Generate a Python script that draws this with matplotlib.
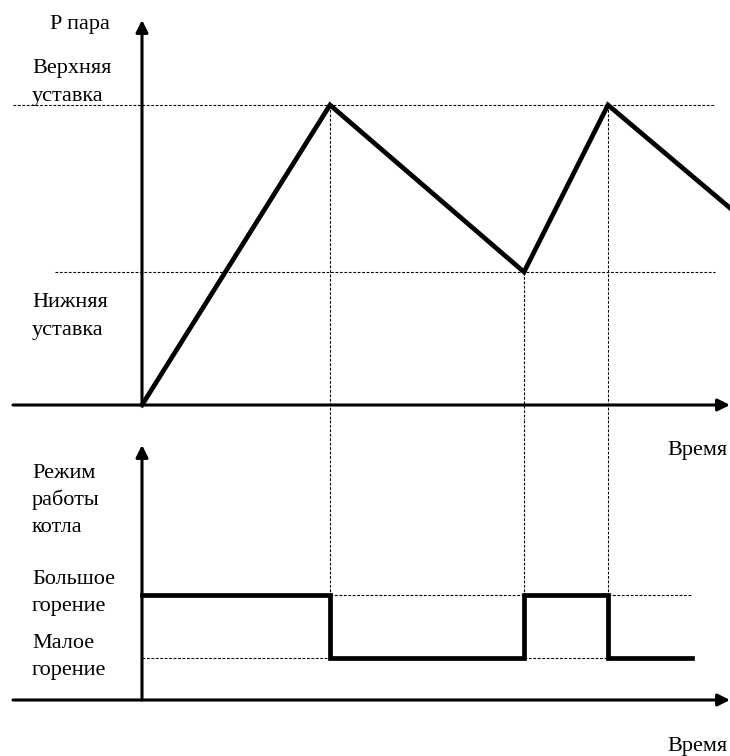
import matplotlib
matplotlib.use("Agg")
import matplotlib.pyplot as plt

plt.rcParams['font.family'] = ['Liberation Serif', 'DejaVu Serif']

# Switching moments (time units from the origin of the time axis)
t_events = [0, 188, 382, 466]
t_end = 588
t_mode_end = 550

# Steam pressure curve
p_time = [0, 188, 382, 466, 588]
p_value = [0, 300, 133, 300, 197]
p_upper = 300
p_lower = 133

# Boiler mode (high / low firing)
mode_low = 42
mode_high = 105
mode_time = [0, 188, 188, 382, 382, 466, 466, 550]
mode_value = [mode_high, mode_high, mode_low, mode_low, mode_high, mode_high, mode_low, mode_low]

W, H = 730, 756
fig = plt.figure(figsize=(W / 100, H / 100), dpi=100)
ax_top = fig.add_axes([0, 336 / H, 1, 420 / H])
ax_bot = fig.add_axes([0, 0, 1, 336 / H])
for ax in (ax_top, ax_bot):
    ax.set_xlim(-142, 588)
    ax.axis('off')
ax_top.set_ylim(-15, 405)
ax_bot.set_ylim(-56, 280)

dot = dict(color='black', lw=0.8, linestyle=(0, (2.5, 1.5)))
arrow = dict(arrowstyle='-|>', color='black', lw=2.2, mutation_scale=18, shrinkA=0, shrinkB=0)

# --- top panel: pressure ---
ax_top.plot([-129, 573], [p_upper, p_upper], **dot)
ax_top.plot([-87, 573], [p_lower, p_lower], **dot)
ax_top.plot([188, 188], [p_upper, -15], **dot)
ax_top.plot([382, 382], [p_lower, -15], **dot)
ax_top.plot([466, 466], [p_upper, -15], **dot)
ax_top.annotate('', xy=(0, 385), xytext=(0, 0), arrowprops=arrow)
ax_top.annotate('', xy=(t_end, 0), xytext=(-129, 0), arrowprops=arrow)
ax_top.plot(p_time, p_value, color='black', lw=3.4, solid_joinstyle='miter', clip_on=False)

# --- bottom panel: boiler mode ---
ax_bot.plot([0, 188], [mode_low, mode_low], **dot)
ax_bot.plot([382, 466], [mode_low, mode_low], **dot)
ax_bot.plot([188, 382], [mode_high, mode_high], **dot)
ax_bot.plot([466, t_mode_end], [mode_high, mode_high], **dot)
for t in t_events[1:]:
    ax_bot.plot([t, t], [280, mode_high], **dot)
ax_bot.annotate('', xy=(0, 255), xytext=(0, 0), arrowprops=arrow)
ax_bot.annotate('', xy=(t_end, 0), xytext=(-129, 0), arrowprops=arrow)
ax_bot.plot(mode_time, mode_value, color='black', lw=3.4, solid_joinstyle='miter')

# --- labels (pixel positions of the original sketch) ---
def label(x, y, s, ha='left'):
    fig.text(x / W, 1 - y / H, s, ha=ha, va='center', fontsize=16)

label(50, 25, 'P пара')
label(32, 69, 'Верхняя')
label(32, 96, 'уставка')
label(32, 302, 'Нижняя')
label(32, 330, 'уставка')
label(728, 450, 'Время', ha='right')
label(32, 473, 'Режим')
label(32, 500, 'работы')
label(32, 527, 'котла')
label(32, 580, 'Большое')
label(32, 606, 'горение')
label(32, 643, 'Малое')
label(32, 670, 'горение')
label(728, 747, 'Время', ha='right')

fig.savefig('out.png', dpi=100)
